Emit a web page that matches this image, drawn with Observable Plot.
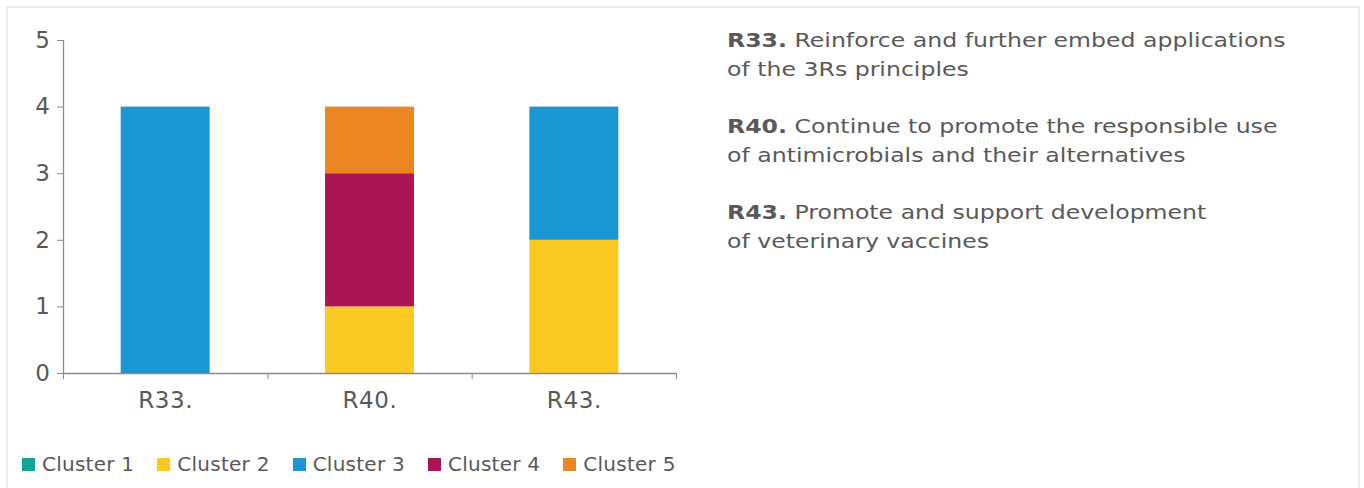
<!DOCTYPE html>
<html>
<head>
<meta charset="utf-8">
<script src="https://cdn.jsdelivr.net/npm/d3@7"></script>
<script src="https://cdn.jsdelivr.net/npm/@observablehq/plot@0.6"></script>
<style>
  html, body { margin: 0; padding: 0; background: #fff; }
  body { width: 1364px; height: 488px; position: relative; overflow: hidden; font-family: "DejaVu Sans", Verdana, sans-serif; color: #595959; }
  #frame { position: absolute; left: 6px; top: 6px; width: 1354px; height: 500px; border: 2px solid #ececec; border-bottom: none; box-sizing: border-box; }
  #chart { position: absolute; left: 0; top: 0; }
  #legend { position: absolute; left: 22px; top: 452px; display: flex; align-items: center; font-size: 20px; letter-spacing: 0.25px; white-space: nowrap; }
  .item { display: flex; align-items: center; margin-right: 23px; }
  .sw { width: 13px; height: 13px; margin-right: 7px; }
  #notes { position: absolute; left: 727px; top: 26px; font-size: 20px; line-height: 29px; white-space: nowrap; transform: scaleX(1.18); transform-origin: 0 0; }
  #notes p { margin: 0 0 28px 0; }
  #notes b { color: #595959; }
</style>
</head>
<body>
<div id="frame"></div>
<div id="chart"></div>
<div id="legend"></div>
<div id="notes"></div>
<script>
// ---- data ----
const categories = ["R33.", "R40.", "R43."];
const clusters = ["Cluster 1", "Cluster 2", "Cluster 3", "Cluster 4", "Cluster 5"];
const clusterColors = ["#11a59a", "#fcc923", "#1b96d4", "#ab1556", "#ec8623"];
// values per cluster, aligned with categories
const cluster1 = [0, 0, 0];
const cluster2 = [0, 1, 2];
const cluster3 = [4, 0, 2];
const cluster4 = [0, 2, 0];
const cluster5 = [0, 1, 0];
const yTicks = [0, 1, 2, 3, 4, 5];
const noteTitles = ["R33.", "R40.", "R43."];
const noteLines = [
  ["Reinforce and further embed applications", "of the 3Rs principles"],
  ["Continue to promote the responsible use", "of antimicrobials and their alternatives"],
  ["Promote and support development", "of veterinary vaccines"]
];

const series = [cluster1, cluster2, cluster3, cluster4, cluster5];
const rows = [];
series.forEach((vals, c) => {
  vals.forEach((v, i) => {
    if (v > 0) rows.push({idx: i, idxEnd: i + 1, cat: categories[i], cluster: clusters[c], value: v});
  });
});

const axisGray = "#8a8a8a";
const textGray = "#595959";

const chart = Plot.plot({
  width: 700,
  height: 420,
  marginLeft: 63,
  marginRight: 24,
  marginTop: 40,
  marginBottom: 47,
  style: {fontFamily: "'DejaVu Sans', Verdana, sans-serif", background: "transparent", overflow: "visible", letterSpacing: "0.6px"},
  x: {type: "linear", domain: [0, categories.length]},
  y: {domain: [0, 5]},
  color: {domain: clusters, range: clusterColors},
  marks: [
    Plot.rect(rows, Plot.stackY({
      x: "idx", x1: "idx", x2: "idxEnd", y: "value", fill: "cluster",
      insetLeft: 57.7, insetRight: 57.7
    })),
    Plot.ruleX([0], {stroke: axisGray, strokeWidth: 1.3}),
    Plot.ruleY([0], {stroke: axisGray, strokeWidth: 1.3}),
    Plot.axisY({ticks: yTicks, tickSize: 6, tickPadding: 7, stroke: axisGray, fill: textGray, fontSize: 23, label: null, tickFormat: d => String(d)}),
    Plot.axisX({ticks: d3.range(categories.length + 1), tickSize: 6, stroke: axisGray, tickFormat: () => "", label: null}),
    Plot.axisX({ticks: categories.map((c, i) => i + 0.5), tickSize: 0, tickPadding: 18, fill: textGray, fontSize: 23, label: null, tickFormat: d => categories[Math.floor(d)]})
  ]
});
document.getElementById("chart").appendChild(chart);

// legend
const legend = document.getElementById("legend");
clusters.forEach((c, i) => {
  const it = document.createElement("div");
  it.className = "item";
  const sw = document.createElement("div");
  sw.className = "sw";
  sw.style.background = clusterColors[i];
  const t = document.createElement("span");
  t.textContent = c;
  it.appendChild(sw); it.appendChild(t);
  legend.appendChild(it);
});

// notes
const notes = document.getElementById("notes");
noteTitles.forEach((t, i) => {
  const p = document.createElement("p");
  const b = document.createElement("b");
  b.textContent = t;
  p.appendChild(b);
  p.appendChild(document.createTextNode(" " + noteLines[i][0]));
  p.appendChild(document.createElement("br"));
  p.appendChild(document.createTextNode(noteLines[i][1]));
  notes.appendChild(p);
});
</script>
</body>
</html>
